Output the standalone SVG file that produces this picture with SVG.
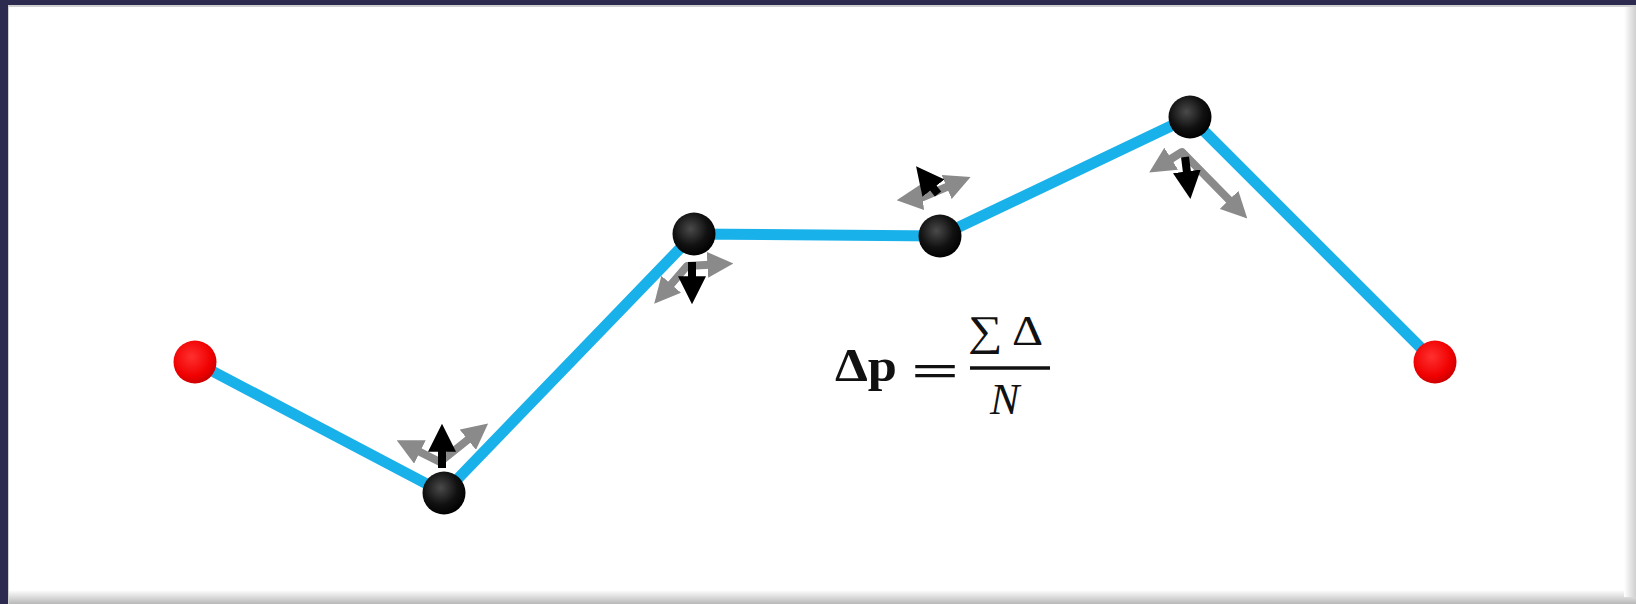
<svg xmlns="http://www.w3.org/2000/svg" width="1636" height="604" viewBox="0 0 1636 604">
  <defs>
    <style>
      .path { fill: none; stroke: #19b1ea; stroke-width: 11; stroke-linejoin: miter; }
      .garrow { fill: none; stroke: #8a8a8a; stroke-width: 8; stroke-linejoin: round; }
      .barrow { fill: none; stroke: #000; stroke-width: 8; }
      .eq { font-family: "Liberation Serif", "DejaVu Serif", serif; fill: #111; }
    </style>
    <radialGradient id="gBlack" cx="0.42" cy="0.38" r="0.65">
      <stop offset="0" stop-color="#4a4a4a"/>
      <stop offset="0.6" stop-color="#111"/>
      <stop offset="1" stop-color="#000"/>
    </radialGradient>
    <radialGradient id="gRed" cx="0.42" cy="0.38" r="0.65">
      <stop offset="0" stop-color="#ff3030"/>
      <stop offset="0.7" stop-color="#f00000"/>
      <stop offset="1" stop-color="#c80000"/>
    </radialGradient>
    <linearGradient id="gBottom" x1="0" y1="0" x2="0" y2="1">
      <stop offset="0" stop-color="#ffffff"/>
      <stop offset="1" stop-color="#b8b8b8"/>
    </linearGradient>
    <linearGradient id="gRight" x1="0" y1="0" x2="1" y2="0">
      <stop offset="0" stop-color="#ffffff"/>
      <stop offset="1" stop-color="#cfcfcf"/>
    </linearGradient>
    <marker id="mGray" viewBox="0 0 10 10" refX="6" refY="5" markerUnits="userSpaceOnUse" markerWidth="26" markerHeight="26" orient="auto-start-reverse">
      <path d="M0,0 L10,5 L0,10 z" fill="#8a8a8a"/>
    </marker>
    <marker id="mBlack" viewBox="0 0 10 10" refX="6" refY="5" markerUnits="userSpaceOnUse" markerWidth="28" markerHeight="28" orient="auto">
      <path d="M0,0 L10,5 L0,10 z" fill="#000"/>
    </marker>
  </defs>

  <!-- frame -->
  <rect x="0" y="0" width="1636" height="604" fill="#2c2a4e"/>
  <rect x="8" y="5" width="1628" height="599" fill="#d0d0d0"/>
  <rect x="9" y="7" width="1627" height="597" fill="#ffffff"/>
  <rect x="9" y="590" width="1627" height="14" fill="url(#gBottom)"/>
  <rect x="1624" y="7" width="12" height="590" fill="url(#gRight)"/>

  <!-- connectors -->
  <g id="connectors">
    <polyline class="path" points="195,362 444,493 694,234 940,236 1190,117 1435,362"/>
  </g>

  <!-- displacement arrows -->
  <g id="arrows">
    <polyline class="garrow" points="406,445 440,462 480,430" marker-start="url(#mGray)" marker-end="url(#mGray)"/>
    <line class="barrow" x1="442" y1="468" x2="442" y2="435" marker-end="url(#mBlack)"/>

    <polyline class="garrow" points="661,296 687,266 723,264" marker-start="url(#mGray)" marker-end="url(#mGray)"/>
    <line class="barrow" x1="692" y1="262" x2="692" y2="293" marker-end="url(#mBlack)"/>

    <polyline class="garrow" points="907,199 923,197 961,181" marker-start="url(#mGray)" marker-end="url(#mGray)"/>
    <line class="barrow" x1="938" y1="194" x2="923" y2="175" marker-end="url(#mBlack)"/>

    <polyline class="garrow" points="1158,167 1182,152 1240,211" marker-start="url(#mGray)" marker-end="url(#mGray)"/>
    <line class="barrow" x1="1185" y1="157" x2="1189" y2="188" marker-end="url(#mBlack)"/>
  </g>

  <!-- nodes -->
  <g id="node-start"><circle cx="195" cy="362" r="21.5" fill="url(#gRed)"/></g>
  <g id="node-1"><circle cx="444" cy="493" r="21.5" fill="url(#gBlack)"/></g>
  <g id="node-2"><circle cx="694" cy="234" r="21.5" fill="url(#gBlack)"/></g>
  <g id="node-3"><circle cx="940" cy="236" r="21.5" fill="url(#gBlack)"/></g>
  <g id="node-4"><circle cx="1190" cy="117" r="21.5" fill="url(#gBlack)"/></g>
  <g id="node-end"><circle cx="1435" cy="362" r="21.5" fill="url(#gRed)"/></g>

  <!-- equation -->
  <g id="equation">
    <text class="eq" x="835" y="381" font-size="47" font-weight="bold" textLength="62" lengthAdjust="spacingAndGlyphs">Δp</text>
    <text class="eq" x="0" y="0" font-size="46" font-weight="bold" transform="translate(911,386) scale(1.85,1)">=</text>
    <text class="eq" x="968" y="345" font-size="42" textLength="75" lengthAdjust="spacingAndGlyphs">∑ Δ</text>
    <line x1="970" y1="368" x2="1050" y2="368" stroke="#111" stroke-width="3.5"/>
    <text class="eq" x="990" y="414" font-size="44" font-style="italic">N</text>
  </g>
</svg>
